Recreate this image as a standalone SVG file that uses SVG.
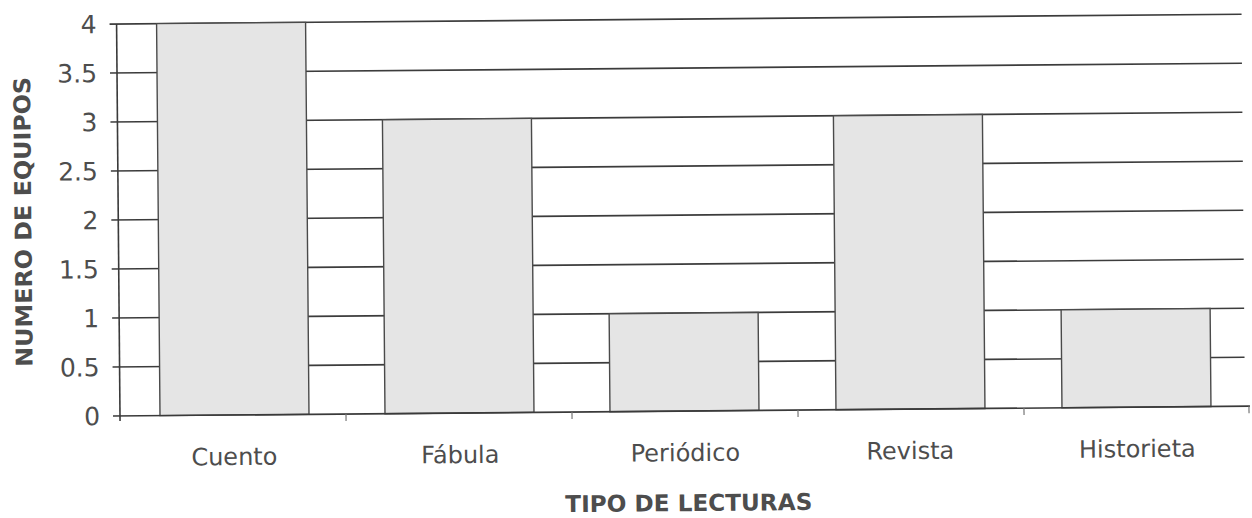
<svg xmlns="http://www.w3.org/2000/svg" width="1252" height="518" viewBox="0 0 1252 518">
<style>
.grid{stroke:#3c3c3c;stroke-width:1.6;fill:none}
.axis{stroke:#3a3a3a;stroke-width:1.6;fill:none}
.tick{stroke:#777;stroke-width:1.2}
.bar{fill:#e5e5e5;stroke:#4a4a4a;stroke-width:1.4}
.yl{font-family:"DejaVu Sans",sans-serif;font-size:25px;fill:#4d4d4d;text-anchor:end}
.cl{font-family:"DejaVu Sans",sans-serif;font-size:24px;fill:#4d4d4d;text-anchor:middle}
.ttl{font-family:"DejaVu Sans",sans-serif;font-weight:bold;font-size:23px;fill:#4d4d4d;text-anchor:middle}
</style>
<rect width="1252" height="518" fill="#ffffff"/>
<g transform="rotate(-0.5 120 416)">
<g id="gridlines">
<line class="grid" x1="113" y1="367" x2="1245" y2="367"/>
<line class="grid" x1="113" y1="318" x2="1245" y2="318"/>
<line class="grid" x1="113" y1="269" x2="1245" y2="269"/>
<line class="grid" x1="113" y1="220" x2="1245" y2="220"/>
<line class="grid" x1="113" y1="171" x2="1245" y2="171"/>
<line class="grid" x1="113" y1="122" x2="1245" y2="122"/>
<line class="grid" x1="113" y1="73" x2="1245" y2="73"/>
<line class="grid" x1="113" y1="24" x2="1245" y2="24"/>
</g>
<g id="bar-cuento"><rect class="bar" x="160" y="24" width="149" height="392"/></g>
<g id="bar-fabula"><rect class="bar" x="385" y="122" width="149" height="294"/></g>
<g id="bar-periodico"><rect class="bar" x="610" y="318" width="149" height="98"/></g>
<g id="bar-revista"><rect class="bar" x="836" y="122" width="149" height="294"/></g>
<g id="bar-historieta"><rect class="bar" x="1062" y="318" width="149" height="98"/></g>
<g id="axes">
<line class="axis" x1="120" y1="24" x2="120" y2="421"/>
<line class="axis" x1="113" y1="416" x2="1250" y2="416"/>
<line class="tick" x1="346" y1="416" x2="346" y2="423"/>
<line class="tick" x1="572" y1="416" x2="572" y2="423"/>
<line class="tick" x1="798" y1="416" x2="798" y2="423"/>
<line class="tick" x1="1024" y1="416" x2="1024" y2="423"/>
<line class="tick" x1="1249" y1="416" x2="1249" y2="423"/>
</g>
<g id="y-labels">
<text class="yl" x="100" y="425">0</text>
<text class="yl" x="100" y="376">0.5</text>
<text class="yl" x="100" y="327">1</text>
<text class="yl" x="100" y="278">1.5</text>
<text class="yl" x="100" y="229">2</text>
<text class="yl" x="100" y="180">2.5</text>
<text class="yl" x="100" y="131">3</text>
<text class="yl" x="100" y="82">3.5</text>
<text class="yl" x="100" y="33">4</text>
</g>
<g id="x-labels">
<text class="cl" x="234" y="466">Cuento</text>
<text class="cl" x="460" y="466">Fábula</text>
<text class="cl" x="685" y="466">Periódico</text>
<text class="cl" x="910" y="466">Revista</text>
<text class="cl" x="1137" y="466">Historieta</text>
</g>
<g id="titles">
<text class="ttl" x="688" y="516" textLength="247" lengthAdjust="spacingAndGlyphs">TIPO DE LECTURAS</text>
<text class="ttl" transform="translate(33 221) rotate(-90)" x="0" y="0" textLength="290" lengthAdjust="spacingAndGlyphs">NUMERO DE EQUIPOS</text>
</g>
</g>
</svg>
